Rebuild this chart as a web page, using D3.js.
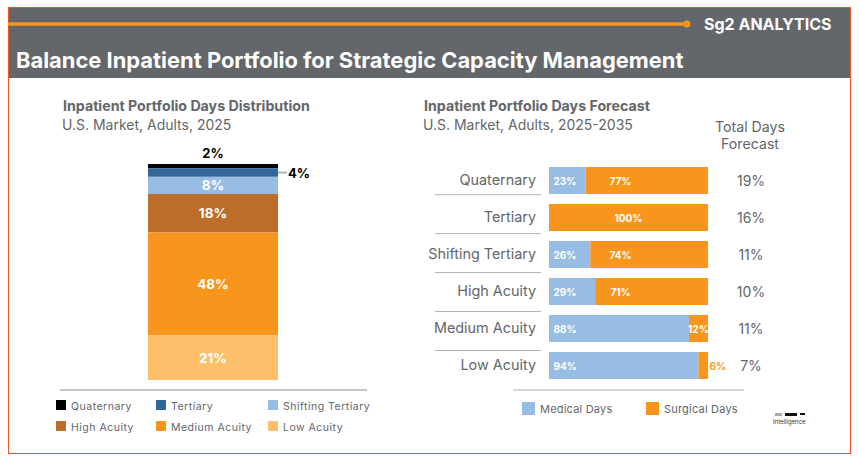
<!DOCTYPE html>
<html>
<head>
<meta charset="utf-8">
<script src="https://cdn.jsdelivr.net/npm/d3@7"></script>
<style>
  html, body { margin: 0; padding: 0; background: #fff; }
  svg { display: block; }
  text { font-family: "Inter", "Liberation Sans", sans-serif; }
</style>
</head>
<body>
<svg id="chart" width="859" height="462"></svg>
<script>
// left chart data, top to bottom
var portfolioNames = ["Quaternary", "Tertiary", "Shifting Tertiary", "High Acuity", "Medium Acuity", "Low Acuity"];
var portfolioShares = [2, 4, 8, 18, 48, 21];
var portfolioColors = ["#000000", "#336699", "#98bde4", "#bc6e2a", "#f8951d", "#fdbf69"];

// right chart data
var forecastNames = ["Quaternary", "Tertiary", "Shifting Tertiary", "High Acuity", "Medium Acuity", "Low Acuity"];
var medicalDays = [23, 0, 26, 29, 88, 94];
var surgicalDays = [77, 100, 74, 71, 12, 6];
var totalForecast = ["19%", "16%", "11%", "10%", "11%", "7%"];

var medicalColor = "#98bde4";
var surgicalColor = "#f8951d";
var gray = "#63666a";
var ruleGray = "#b0b0b0";

var svg = d3.select("#chart");

// header band + frame
svg.append("rect").attr("x", 8).attr("y", 7.5).attr("width", 842).attr("height", 70.5).attr("fill", gray);
svg.append("rect").attr("x", 8.5).attr("y", 7.5).attr("width", 842).attr("height", 446)
  .attr("fill", "none").attr("stroke", "#e8562a").attr("stroke-width", 1);
svg.append("line").attr("x1", 8).attr("x2", 687).attr("y1", 24).attr("y2", 24)
  .attr("stroke", surgicalColor).attr("stroke-width", 3.6);
svg.append("circle").attr("cx", 687).attr("cy", 24).attr("r", 3.6).attr("fill", surgicalColor);

function addText(x, y, str, size, weight, color, anchor) {
  return svg.append("text").attr("x", x).attr("y", y).text(str)
    .attr("font-size", size).attr("font-weight", weight)
    .attr("fill", color).attr("text-anchor", anchor || "start");
}

addText(704, 29.5, "Sg2 ANALYTICS", 16, 700, "#fff");
addText(16, 68, "Balance Inpatient Portfolio for Strategic Capacity Management", 21.9, 700, "#fff");

// ---- left chart: single stacked bar
addText(63, 111, "Inpatient Portfolio Days Distribution", 14.2, 700, gray);
addText(62, 130, "U.S. Market, Adults, 2025", 14, 400, gray);

var total = d3.sum(portfolioShares);
var stackY = d3.scaleLinear().domain([0, total]).range([164, 380]);
var stackX = d3.scaleBand().domain(["2025"]).range([148, 278]);
var cumul = d3.cumsum(portfolioShares);

var segs = svg.append("g").selectAll("g").data(portfolioShares).enter().append("g");
segs.append("rect")
  .attr("x", stackX("2025"))
  .attr("width", stackX.bandwidth())
  .attr("y", (d, i) => stackY(cumul[i] - d))
  .attr("height", d => stackY(d) - stackY(0))
  .attr("fill", (d, i) => portfolioColors[i]);
segs.filter(d => d >= 8).append("text")
  .attr("x", stackX("2025") + stackX.bandwidth() / 2)
  .attr("y", (d, i) => stackY(cumul[i + 2] - d / 2) + 5)
  .attr("text-anchor", "middle")
  .attr("font-size", 13.5).attr("font-weight", 700).attr("fill", "#fff")
  .text(d => d + "%");

// the two thin segments get outside labels
addText(213, 158, portfolioShares[0] + "%", 13, 700, "#000", "middle");
addText(288, 178, portfolioShares[1] + "%", 13, 700, "#000");
svg.append("line").attr("x1", 278).attr("x2", 287)
  .attr("y1", stackY(cumul[1] - portfolioShares[1] / 2)).attr("y2", stackY(cumul[1] - portfolioShares[1] / 2))
  .attr("stroke", ruleGray).attr("stroke-width", 2);

svg.append("line").attr("x1", 60).attr("x2", 367).attr("y1", 390).attr("y2", 390)
  .attr("stroke", ruleGray).attr("stroke-width", 1.6);

// left legend, 3 columns x 2 rows
var legX = d3.scaleOrdinal().domain([0, 1, 2]).range([56, 156, 268]);
var legY = d3.scaleOrdinal().domain([0, 1]).range([400, 421]);
var leg = svg.append("g").selectAll("g").data(portfolioNames).enter().append("g")
  .attr("transform", (d, i) => "translate(" + legX(i % 3) + "," + legY(Math.floor(i / 3)) + ")");
leg.append("rect").attr("width", 10).attr("height", 10).attr("fill", (d, i) => portfolioColors[i]);
leg.append("text").attr("x", 15).attr("y", 9.5).attr("font-size", 10.5).attr("fill", gray)
  .attr("letter-spacing", 0.5).text(d => d);

// ---- right chart: 100% bars
addText(424, 111, "Inpatient Portfolio Days Forecast", 14.2, 700, gray);
addText(423, 130, "U.S. Market, Adults, 2025-2035", 14, 400, gray);
addText(750, 132, "Total Days", 14.2, 400, gray, "middle");
addText(750, 148.5, "Forecast", 14.2, 400, gray, "middle");

var x = d3.scaleLinear().domain([0, 100]).range([549, 708]);
var y = d3.scaleBand().domain(forecastNames).range([167, 379]).paddingInner(10 / 37).paddingOuter(0).align(0);

var rows = svg.append("g").selectAll("g").data(forecastNames).enter().append("g");
rows.append("rect")
  .attr("x", x(0))
  .attr("y", d => y(d))
  .attr("width", (d, i) => x(medicalDays[i]) - x(0))
  .attr("height", y.bandwidth())
  .attr("fill", medicalColor);
rows.append("rect")
  .attr("x", (d, i) => x(medicalDays[i]))
  .attr("y", d => y(d))
  .attr("width", (d, i) => x(surgicalDays[i]) - x(0))
  .attr("height", y.bandwidth())
  .attr("fill", surgicalColor);

// medical labels sit at the left end of the bar
rows.filter((d, i) => medicalDays[i] > 0).append("text")
  .attr("x", x(0) + 4.5)
  .attr("y", d => y(d) + y.bandwidth() / 2 + 4)
  .attr("font-size", 10).attr("font-weight", 700).attr("fill", "#fff")
  .text(d => medicalDays[forecastNames.indexOf(d)] + "%");

// surgical labels: wide bars share one column, narrow ones differ
rows.append("text")
  .attr("y", d => y(d) + y.bandwidth() / 2 + 4)
  .attr("font-size", 10).attr("font-weight", 700)
  .attr("x", (d, i) => {
    var s = surgicalDays[i];
    if (s == 100) return x(50);
    if (s < 10) return x(100) + 1.5;
    if (s < 20) return x(100 - s / 2);
    return x(45);
  })
  .attr("text-anchor", (d, i) => surgicalDays[i] < 10 ? "start" : "middle")
  .attr("fill", (d, i) => surgicalDays[i] < 10 ? surgicalColor : "#fff")
  .text((d, i) => surgicalDays[i] + "%");

// category labels via axis
var yAxis = d3.axisLeft(y).tickSize(0).tickPadding(13);
var axisG = svg.append("g").attr("transform", "translate(549,0)").call(yAxis);
axisG.select(".domain").remove();
axisG.selectAll("text").attr("font-size", 14.4).attr("fill", gray).attr("font-family", null);

// total column
rows.append("text")
  .attr("x", 751)
  .attr("y", d => y(d) + y.bandwidth() / 2 + 5)
  .attr("text-anchor", "middle")
  .attr("font-size", 14).attr("fill", gray)
  .text((d, i) => totalForecast[i]);

// row rules run on a slightly wider step than the bars
var ruleY = d3.scalePoint().domain(forecastNames.slice(0, -1)).range([194.7, 350.5]);
svg.append("g").selectAll("line").data(ruleY.domain()).enter().append("line")
  .attr("x1", 435).attr("x2", 541)
  .attr("y1", d => ruleY(d)).attr("y2", d => ruleY(d))
  .attr("stroke", ruleGray).attr("stroke-width", 1);

svg.append("line").attr("x1", 513).attr("x2", 744).attr("y1", 390).attr("y2", 390)
  .attr("stroke", ruleGray).attr("stroke-width", 1);

// right legend
var legend2 = [["Medical Days", medicalColor, 522], ["Surgical Days", surgicalColor, 646]];
var leg2 = svg.append("g").selectAll("g").data(legend2).enter().append("g")
  .attr("transform", d => "translate(" + d[2] + ",402)");
leg2.append("rect").attr("width", 13).attr("height", 13).attr("fill", d => d[1]);
leg2.append("text").attr("x", 18).attr("y", 11).attr("font-size", 11).attr("fill", gray)
  .attr("letter-spacing", 0.2).text(d => d[0]);

// leftover logo scrap in the corner
svg.append("rect").attr("x", 775).attr("y", 413).attr("width", 7).attr("height", 3).attr("fill", "#aaa");
svg.append("rect").attr("x", 785).attr("y", 413).attr("width", 12).attr("height", 3).attr("fill", "#111");
svg.append("rect").attr("x", 800).attr("y", 413).attr("width", 5).attr("height", 2).attr("fill", "#111");
addText(773, 424, "Intelligence", 6, 400, "#333");
</script>
</body>
</html>
